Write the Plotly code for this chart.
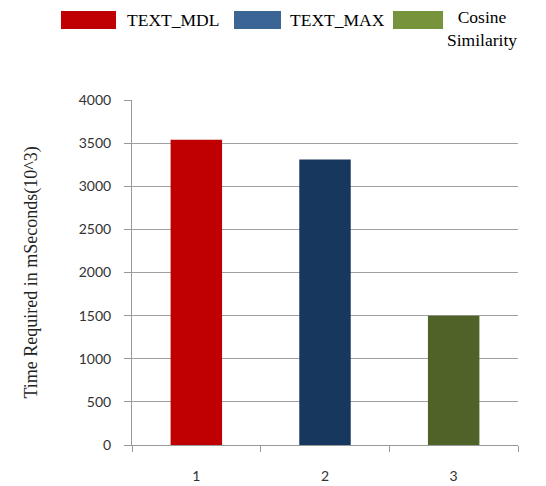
import plotly.graph_objects as go

categories = ["1", "2", "3"]
series_names = ["TEXT_MDL", "TEXT_MAX", "Cosine<br>Similarity"]
values = [3540, 3310, 1500]
bar_colors = ["#C00000", "#17375E", "#4F6228"]
legend_colors = ["#C00000", "#3A6595", "#77933C"]
y_ticks = [0, 500, 1000, 1500, 2000, 2500, 3000, 3500, 4000]

W, H = 546, 486
L, R, T, B = 132, 28, 100, 41

fig = go.Figure()
fig.add_trace(go.Bar(
    x=categories, y=values,
    marker=dict(color=bar_colors, line=dict(width=0)),
    showlegend=False,
))

def px_x(p):
    return (p - L) / (W - L - R)

def px_y(p):
    return (H - B - p) / (H - T - B)

shapes = []
annotations = []
rects = [(61, 116), (234, 281), (393, 443)]
text_x = [125, 288, 445]
for (x0, x1), tx, name, col in zip(rects, text_x, series_names, legend_colors):
    shapes.append(dict(type="rect", xref="paper", yref="paper",
                       x0=px_x(x0), x1=px_x(x1), y0=px_y(29), y1=px_y(11),
                       fillcolor=col, line=dict(width=0)))
    annotations.append(dict(xref="paper", yref="paper", x=px_x(tx),
                            y=px_y(20) if "<br>" not in name else px_y(29),
                            text=name, showarrow=False,
                            xanchor="left",
                            yanchor="middle",
                            align="center",
                            font=dict(family="Liberation Serif", size=17.5, color="#000000")))

fig.update_layout(
    width=W, height=H,
    margin=dict(l=L, r=R, t=T, b=B),
    paper_bgcolor="white", plot_bgcolor="white",
    bargap=0.6,
    showlegend=False,
    shapes=shapes,
    annotations=annotations,
    xaxis=dict(
        type="category",
        automargin=False,
        tickson="boundaries",
        ticks="outside", ticklen=6, tickcolor="#999999",
        showline=True, linecolor="#999999", linewidth=1,
        showgrid=False,
        tickfont=dict(family="Lato", size=14, color="#333333"),
        ticklabelstandoff=18,
    ),
    yaxis=dict(
        automargin=False,
        range=[0, 4000],
        tickvals=y_ticks,
        ticks="outside", ticklen=7, tickcolor="#999999",
        showline=True, linecolor="#999999", linewidth=1,
        showgrid=True, gridcolor="#A0A0A0", gridwidth=1,
        zeroline=False,
        tickfont=dict(family="Lato", size=14, color="#333333"),
        ticklabelstandoff=10,
        title=dict(text="Time Required in mSeconds(10^3)",
                   font=dict(family="Liberation Serif", size=18, color="#222222"),
                   standoff=36),
    ),
)

fig.write_html("out.html")
